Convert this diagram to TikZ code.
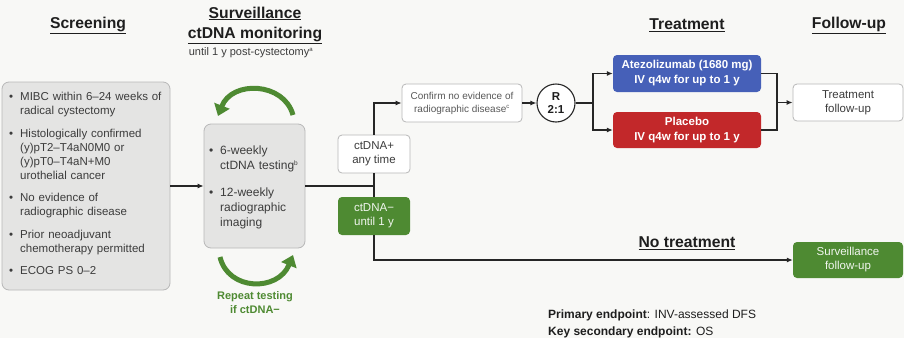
\documentclass[tikz,border=0pt]{standalone}
\usepackage{fontspec}
\setmainfont{Liberation Sans}
\usetikzlibrary{arrows.meta}
\definecolor{bgc}{HTML}{F8F8F6}
\definecolor{boxg}{HTML}{E4E4E3}
\definecolor{boxb}{HTML}{B8B8B8}
\definecolor{grn}{HTML}{4E8A32}
\definecolor{blu}{HTML}{4660B8}
\definecolor{rdc}{HTML}{C2282A}
\definecolor{txt}{HTML}{3C3C3C}
\definecolor{hdc}{HTML}{1E1E1E}
\newcommand\bitem[2]{\noindent\hangindent=#1\hangafter=1\makebox[#1][l]{\textbullet}#2\par}
\tikzset{
  heading/.style={font=\bfseries\fontsize{15.7}{19}\selectfont, text=hdc, align=center, inner sep=0pt},
  graybox/.style={draw=boxb, fill=boxg, rounded corners=7pt, line width=0.8pt},
  whitebox/.style={draw=boxb, fill=white, rounded corners=4pt, line width=0.8pt, text=txt, align=center, inner sep=0pt},
  colbox/.style={rounded corners=4pt, text=white, align=center, inner sep=0pt},
  conn/.style={line width=1.1pt, draw=black!85},
  arr/.style={conn, -{Latex[length=6pt,width=5pt]}},
  greenarc/.style={line width=5pt, draw=grn, -{Triangle[length=11pt,width=16pt]}},
}
\begin{document}
\begin{tikzpicture}[x=1pt,y=-1pt]
\useasboundingbox (0,0) rectangle (904,338);
\fill[bgc] (0,0) rectangle (904,338);

% headings
\node[heading] (hscreen) at (88,25) {\underline{Screening}};
\node[heading] (hsurv) at (255,25) {\underline{Surveillance}\\[1pt]\underline{ctDNA monitoring}};
\node[font=\fontsize{11}{12}\selectfont, text=txt, inner sep=0pt] (huntil) at (251,53) {until 1 y post-cystectomy\textsuperscript{\fontsize{6}{6}\selectfont a}};
\node[heading] (htreat) at (687,25) {\underline{Treatment}};
\node[heading] (hfu) at (849,25) {\underline{Follow-up}};
\node[heading] (hnotr) at (687,243) {\underline{No treatment}};

% screening box
\node[graybox, minimum width=168pt, minimum height=208pt] (screen) at (86,186) {};
\node[anchor=north west, inner sep=0pt, text width=160pt, text=txt,
      font=\fontsize{11.5}{14}\selectfont] (screentext) at (9,92) {%
\bitem{11pt}{MIBC within 6–24 weeks of\newline radical cystectomy}\vspace{8.5pt}
\bitem{11pt}{Histologically confirmed\newline (y)pT2–T4aN0M0 or\newline (y)pT0–T4aN+M0\newline urothelial cancer}\vspace{8.5pt}
\bitem{11pt}{No evidence of\newline radiographic disease}\vspace{8.5pt}
\bitem{11pt}{Prior neoadjuvant\newline chemotherapy permitted}\vspace{8.5pt}
\bitem{11pt}{ECOG PS 0–2}};

% monitoring box
\node[graybox, minimum width=101pt, minimum height=124pt] (mon) at (254.5,186) {};
\node[anchor=north west, inner sep=0pt, text width=95pt, text=txt,
      font=\fontsize{12}{15}\selectfont] (montext) at (209,146) {%
\bitem{11pt}{6-weekly\newline ctDNA testing\textsuperscript{\fontsize{6.5}{6.5}\selectfont b}}\vspace{12pt}
\bitem{11pt}{12-weekly\newline radiographic\newline imaging}};

% green loops
\coordinate (ta) at (293,115);
\coordinate (tb) at (218,116);
\coordinate (ba) at (220,257);
\coordinate (bb) at (293,255);
\draw[greenarc] (ta) .. controls (284,82) and (232,80) .. (tb);
\draw[greenarc] (ba) .. controls (228,291) and (278,292) .. (bb);
\node[font=\bfseries\fontsize{11}{14}\selectfont, text=grn, align=center, inner sep=0pt] (repeat) at (255,303) {Repeat testing\\if ctDNA−};

% ctDNA status boxes
\coordinate (J) at (374,186);
\node[whitebox, minimum width=72pt, minimum height=38pt, font=\fontsize{11.5}{14}\selectfont] (pos) at (374,154) {ctDNA+\\any time};
\node[colbox, fill=grn, minimum width=72pt, minimum height=38pt, font=\fontsize{11.5}{14}\selectfont, text=white!92!grn] (neg) at (374,216) {ctDNA−\\until 1 y};

% confirm, randomisation
\node[whitebox, minimum width=120pt, minimum height=38pt, font=\fontsize{10}{13}\selectfont, text=black!65] (conf) at (462,103) {Confirm no evidence of\\radiographic disease\textsuperscript{\fontsize{6}{6}\selectfont c}};
\node[circle, draw=black!85, line width=1.1pt, fill=white, minimum size=38pt, inner sep=0pt, align=center, font=\bfseries\fontsize{11.5}{12.5}\selectfont, text=hdc] (R) at (556,103) {R\\2:1};
\coordinate (B) at (593,103);

% treatment arms
\node[colbox, fill=blu, minimum width=148pt, minimum height=37pt, font=\bfseries\fontsize{11.5}{15}\selectfont] (atezo) at (687,73.5) {Atezolizumab (1680 mg)\\IV q4w for up to 1 y};
\node[colbox, fill=rdc, minimum width=148pt, minimum height=36pt, font=\bfseries\fontsize{11.5}{15}\selectfont] (plac) at (687,130) {Placebo\\IV q4w for up to 1 y};
\coordinate (Ma) at (777,73.5);
\coordinate (Mp) at (777,130);
\coordinate (M) at (777,102.5);

% follow-up boxes
\node[whitebox, minimum width=110pt, minimum height=37pt, font=\fontsize{11.5}{14}\selectfont] (tfu) at (848,102.5) {Treatment\\follow-up};
\node[colbox, fill=grn, minimum width=110pt, minimum height=36pt, font=\fontsize{11.5}{14}\selectfont, text=white!92!grn] (sfu) at (848,260) {Surveillance\\follow-up};

% connectors
\draw[arr] (screen.east) -- (mon.west);
\draw[conn] (mon.east) -- (J);
\draw[conn] (J) -- (pos.south);
\draw[conn] (J) -- (neg.north);
\draw[arr] (pos.north) |- (conf.west);
\draw[arr] (conf.east) -- (R.west);
\draw[conn] (R.east) -- (B);
\draw[arr] (B) |- (atezo.west);
\draw[arr] (B) |- (plac.west);
\draw[conn] (atezo.east) -- (Ma) -- (Mp) -- (plac.east);
\draw[arr] (M) -- (tfu.west);
\draw[arr] (neg.south) |- (sfu.west);

% endpoints
\node[anchor=west, inner sep=0pt, align=left, text=hdc, font=\fontsize{12}{17.5}\selectfont] (endp) at (548,324) {\textbf{Primary endpoint}: INV-assessed DFS\\\textbf{Key secondary endpoint:} OS};
\end{tikzpicture}
\end{document}
